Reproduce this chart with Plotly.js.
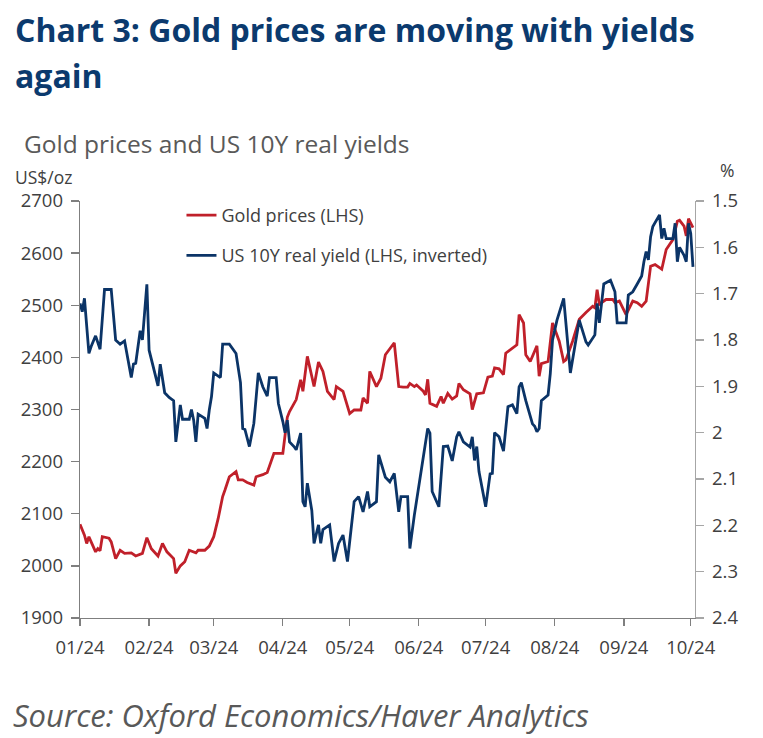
<!DOCTYPE html>
<html>
<head>
<meta charset="utf-8">
<script src="https://cdn.plot.ly/plotly-3.0.1.min.js"></script>
<style>
  html, body { margin: 0; padding: 0; background: #ffffff; }
  #chart { width: 763px; height: 738px; }
</style>
</head>
<body>
<div id="chart"></div>
<script>
// ---- Data ----
const goldDates = [
  "2024-01-01","2024-01-03","2024-01-04","2024-01-05","2024-01-06","2024-01-08","2024-01-09","2024-01-10",
  "2024-01-11","2024-01-14","2024-01-15","2024-01-17","2024-01-19","2024-01-21","2024-01-24","2024-01-26",
  "2024-01-29","2024-01-31","2024-02-02","2024-02-05","2024-02-07","2024-02-09","2024-02-12","2024-02-13",
  "2024-02-15","2024-02-17","2024-02-19","2024-02-22","2024-02-23","2024-02-26","2024-02-28","2024-03-01",
  "2024-03-03","2024-03-05","2024-03-06","2024-03-08","2024-03-11","2024-03-12","2024-03-14","2024-03-16",
  "2024-03-19","2024-03-20","2024-03-23","2024-03-25","2024-03-28","2024-04-01","2024-04-03","2024-04-04",
  "2024-04-07","2024-04-09","2024-04-10","2024-04-12","2024-04-15","2024-04-17","2024-04-19","2024-04-21",
  "2024-04-24","2024-04-25","2024-04-28","2024-04-30","2024-05-01","2024-05-03","2024-05-06","2024-05-07",
  "2024-05-09","2024-05-10","2024-05-13","2024-05-15","2024-05-17","2024-05-21","2024-05-23","2024-05-25",
  "2024-05-27","2024-05-28","2024-05-30","2024-05-31","2024-06-03","2024-06-04","2024-06-05","2024-06-06",
  "2024-06-09","2024-06-11","2024-06-12","2024-06-14","2024-06-16","2024-06-18","2024-06-19","2024-06-21",
  "2024-06-24","2024-06-25","2024-06-27","2024-06-30","2024-07-02","2024-07-04","2024-07-05","2024-07-07",
  "2024-07-09","2024-07-10","2024-07-14","2024-07-15","2024-07-16","2024-07-18","2024-07-19","2024-07-21",
  "2024-07-24","2024-07-25","2024-07-26","2024-07-29","2024-07-31","2024-08-03","2024-08-05","2024-08-06",
  "2024-08-09","2024-08-12","2024-08-15","2024-08-18","2024-08-19","2024-08-20","2024-08-21","2024-08-24",
  "2024-08-27","2024-08-28","2024-08-30","2024-09-02","2024-09-05","2024-09-07","2024-09-09","2024-09-11",
  "2024-09-13","2024-09-15","2024-09-17","2024-09-18","2024-09-20","2024-09-23","2024-09-25","2024-09-26",
  "2024-09-28","2024-09-29","2024-09-30","2024-10-02"
];
const goldPrices = [
  2080,2059,2043,2056,2046,2027,2033,2029,
  2056,2053,2046,2014,2030,2024,2025,2019,
  2024,2054,2033,2019,2043,2027,2014,1986,
  2000,2008,2030,2025,2030,2030,2038,2056,
  2091,2133,2145,2171,2181,2165,2165,2160,
  2155,2171,2175,2179,2216,2216,2285,2296,
  2319,2357,2335,2402,2344,2391,2373,2335,
  2319,2344,2335,2306,2292,2299,2299,2322,
  2312,2373,2344,2360,2405,2428,2344,2343,
  2343,2350,2344,2347,2335,2328,2358,2312,
  2306,2325,2312,2331,2320,2326,2350,2338,
  2330,2300,2330,2332,2362,2364,2380,2378,
  2367,2408,2420,2424,2482,2466,2405,2392,
  2422,2364,2388,2392,2466,2431,2392,2395,
  2431,2473,2486,2498,2495,2530,2502,2511,
  2511,2505,2508,2482,2508,2505,2498,2508,
  2575,2578,2572,2569,2607,2626,2661,2663,
  2652,2633,2666,2649
];

const yieldDates = [
  "2024-01-01","2024-01-02","2024-01-03","2024-01-05","2024-01-06","2024-01-08","2024-01-10","2024-01-12",
  "2024-01-15","2024-01-17","2024-01-19","2024-01-21","2024-01-24","2024-01-25","2024-01-26","2024-01-28",
  "2024-01-29","2024-01-31","2024-02-01","2024-02-05","2024-02-06","2024-02-08","2024-02-10","2024-02-12",
  "2024-02-13","2024-02-14","2024-02-15","2024-02-16","2024-02-19","2024-02-20","2024-02-21","2024-02-22",
  "2024-02-23","2024-02-26","2024-02-27","2024-02-28","2024-02-29","2024-03-01","2024-03-04","2024-03-05",
  "2024-03-08","2024-03-11","2024-03-12","2024-03-13","2024-03-14","2024-03-15","2024-03-17","2024-03-19",
  "2024-03-21","2024-03-23","2024-03-25","2024-03-26","2024-03-29","2024-03-30","2024-04-01","2024-04-02",
  "2024-04-03","2024-04-04","2024-04-06","2024-04-07","2024-04-09","2024-04-10","2024-04-11","2024-04-12",
  "2024-04-14","2024-04-15","2024-04-17","2024-04-18","2024-04-19","2024-04-22","2024-04-24","2024-04-26",
  "2024-04-28","2024-04-30","2024-05-03","2024-05-05","2024-05-07","2024-05-09","2024-05-10","2024-05-13",
  "2024-05-14","2024-05-17","2024-05-19","2024-05-21","2024-05-23","2024-05-24","2024-05-27","2024-05-28",
  "2024-05-30","2024-06-02","2024-06-05","2024-06-06","2024-06-07","2024-06-10","2024-06-12","2024-06-14",
  "2024-06-16","2024-06-18","2024-06-19","2024-06-21","2024-06-24","2024-06-25","2024-06-26","2024-06-27",
  "2024-06-28","2024-07-01","2024-07-03","2024-07-04","2024-07-05","2024-07-07","2024-07-09","2024-07-11",
  "2024-07-13","2024-07-15","2024-07-16","2024-07-17","2024-07-19","2024-07-22","2024-07-23","2024-07-24",
  "2024-07-25","2024-07-26","2024-07-29","2024-07-30","2024-07-31","2024-08-02","2024-08-05","2024-08-08",
  "2024-08-12","2024-08-15","2024-08-16","2024-08-19","2024-08-20","2024-08-21","2024-08-23","2024-08-26",
  "2024-08-28","2024-08-29","2024-09-02","2024-09-03","2024-09-05","2024-09-07","2024-09-09","2024-09-10",
  "2024-09-11","2024-09-12","2024-09-13","2024-09-14","2024-09-17","2024-09-18","2024-09-19","2024-09-20",
  "2024-09-23","2024-09-24","2024-09-25","2024-09-26","2024-09-28","2024-09-29","2024-09-30","2024-10-01",
  "2024-10-02"
];
const realYields = [
  1.721,1.739,1.710,1.829,1.814,1.791,1.820,1.691,
  1.691,1.800,1.809,1.802,1.881,1.852,1.850,1.780,
  1.800,1.680,1.822,1.899,1.852,1.914,1.924,1.931,
  2.020,1.973,1.940,1.971,1.971,1.950,1.973,2.020,
  1.960,1.969,1.991,1.951,1.922,1.871,1.881,1.809,
  1.809,1.829,1.858,1.892,1.991,1.993,2.030,1.980,
  1.871,1.901,1.921,1.881,1.881,1.937,1.976,2.000,
  1.973,2.020,2.030,2.037,2.001,2.149,2.160,2.109,
  2.168,2.239,2.199,2.239,2.209,2.199,2.278,2.239,
  2.221,2.278,2.149,2.138,2.171,2.127,2.160,2.149,
  2.048,2.096,2.106,2.088,2.171,2.138,2.138,2.250,
  2.178,2.084,1.991,2.001,2.127,2.160,2.030,2.029,
  2.061,2.009,1.998,2.020,2.031,2.009,2.060,2.030,
  2.084,2.160,2.089,2.088,2.000,2.009,2.040,1.944,
  1.940,1.959,1.901,1.892,1.931,1.981,1.986,1.998,
  1.991,1.931,1.919,1.872,1.800,1.757,1.710,1.871,
  1.757,1.804,1.811,1.789,1.721,1.763,1.679,1.671,
  1.696,1.763,1.763,1.703,1.696,1.679,1.662,1.631,
  1.609,1.627,1.577,1.555,1.530,1.581,1.559,1.581,
  1.581,1.548,1.631,1.600,1.617,1.631,1.548,1.570,
  1.642
];

const goldName = "Gold prices (LHS)";
const yieldName = "US 10Y real yield (LHS, inverted)";
const leftTicks = [1900, 2000, 2100, 2200, 2300, 2400, 2500, 2600, 2700];
const rightTicks = [1.5, 1.6, 1.7, 1.8, 1.9, 2.0, 2.1, 2.2, 2.3, 2.4];

// ---- Styling ----
const FONT = "Open Sans, Noto Sans, sans-serif";
const TXT = "#404040";

const traces = [
  {
    x: goldDates, y: goldPrices, name: goldName, type: "scatter", mode: "lines",
    line: { color: "#c0202a", width: 2.8 }, yaxis: "y", legendgroup: "a"
  },
  {
    x: yieldDates, y: realYields, name: yieldName, type: "scatter", mode: "lines",
    line: { color: "#0b3467", width: 2.8 }, yaxis: "y2", legendgroup: "b"
  }
];

const layout = {
  width: 763, height: 738,
  margin: { l: 80, r: 68, t: 201, b: 120 },
  paper_bgcolor: "#ffffff", plot_bgcolor: "#ffffff",
  font: { family: FONT, color: TXT, size: 18 },
  showlegend: true,
  legend: {
    x: 0.165, y: 1.01, xanchor: "left", yanchor: "top",
    font: { family: FONT, size: 18, color: TXT },
    bgcolor: "rgba(0,0,0,0)", traceorder: "grouped", tracegroupgap: 14,
    itemwidth: 30
  },
  xaxis: {
    type: "date",
    range: ["2024-01-01", "2024-10-02 22:00"],
    tick0: "2024-01-01", dtick: "M1", tickformat: "%m/%y",
    showgrid: false, zeroline: false,
    showline: true, linecolor: "#7f7f7f", linewidth: 1.3,
    ticks: "outside", ticklen: 7, tickcolor: "#7f7f7f", tickwidth: 1.3,
    tickfont: { family: FONT, size: 18.5, color: TXT },
    ticklabelstandoff: 5
  },
  yaxis: {
    range: [1900, 2700], tickvals: leftTicks,
    showgrid: false, zeroline: false,
    showline: true, linecolor: "#7f7f7f", linewidth: 1.3,
    ticks: "outside", ticklen: 8, tickcolor: "#7f7f7f", tickwidth: 1.3,
    tickfont: { family: FONT, size: 18.5, color: TXT },
    ticklabelstandoff: 4
  },
  yaxis2: {
    overlaying: "y", side: "right",
    range: [2.4, 1.5], tickvals: rightTicks,
    ticktext: rightTicks.map(v => String(Number(v.toFixed(1)))),
    showgrid: false, zeroline: false,
    showline: true, linecolor: "#a6a6a6", linewidth: 1.3,
    ticks: "outside", ticklen: 8, tickcolor: "#a6a6a6", tickwidth: 1.3,
    tickfont: { family: FONT, size: 18.5, color: TXT },
    ticklabelstandoff: 4
  },
  annotations: [
    { text: "<b>Chart 3: Gold prices are moving with yields</b>", xref: "paper", yref: "paper",
      x: (13 - 80) / 615, y: (618 - 53) / 417, xanchor: "left", yanchor: "bottom", showarrow: false,
      font: { family: FONT, size: 32, color: "#0b3a6e" } },
    { text: "<b>again</b>", xref: "paper", yref: "paper",
      x: (13 - 80) / 615, y: (618 - 99) / 417, xanchor: "left", yanchor: "bottom", showarrow: false,
      font: { family: FONT, size: 32, color: "#0b3a6e" } },
    { text: "Gold prices and US 10Y real yields", xref: "paper", yref: "paper",
      x: (22 - 80) / 615, y: (618 - 162) / 417, xanchor: "left", yanchor: "bottom", showarrow: false,
      font: { family: FONT, size: 24.5, color: "#595959" } },
    { text: "US$/oz", xref: "paper", yref: "paper",
      x: (14 - 80) / 615, y: (618 - 190) / 417, xanchor: "left", yanchor: "bottom", showarrow: false,
      font: { family: FONT, size: 17.5, color: TXT }, borderpad: 0 },
    { text: "%", xref: "paper", yref: "paper",
      x: (719 - 80) / 615, y: (618 - 183) / 417, xanchor: "left", yanchor: "bottom", showarrow: false,
      font: { family: FONT, size: 17.5, color: TXT }, borderpad: 0 },
    { text: "<i>Source: Oxford Economics/Haver Analytics</i>", xref: "paper", yref: "paper",
      x: (11 - 80) / 615, y: (618 - 738) / 417, xanchor: "left", yanchor: "bottom", showarrow: false,
      font: { family: FONT, size: 31, color: "#595959" } }
  ]
};

Plotly.newPlot("chart", traces, layout, { displayModeBar: false, staticPlot: true });
</script>
</body>
</html>
